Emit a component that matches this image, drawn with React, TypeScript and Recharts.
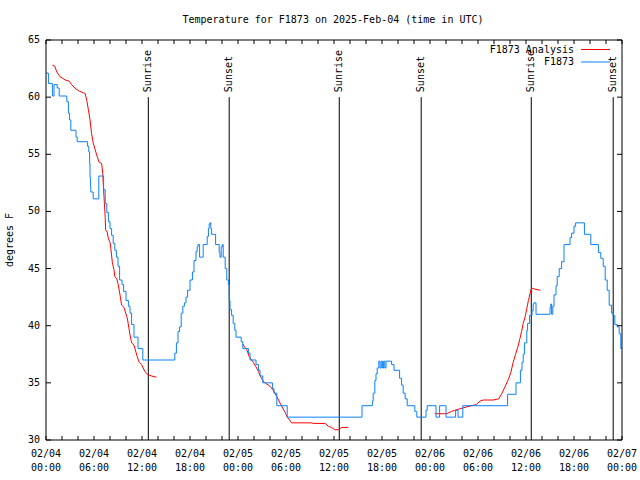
import React from 'react'
import { LineChart, Line, XAxis, YAxis, ReferenceLine, Legend } from 'recharts'

const FONT = '"DejaVu Sans Mono", "Liberation Mono", monospace'

// hours since 02/04 00:00 UTC
const obsHours = [
  0.0, 0.3, 0.8, 1.0, 1.4, 1.65, 2.6, 2.8, 2.95, 3.1, 3.75, 3.9, 5.2, 5.35, 5.45, 5.5, 5.55, 5.6, 5.9, 6.6,
  7.2, 7.4, 7.6, 7.8, 8.0, 8.2, 8.4, 8.6, 8.8, 9.0, 9.2, 9.5, 9.7, 10.0, 10.3, 10.5, 10.7, 11.0, 11.5, 12.1,
  16.1, 16.3, 16.5, 16.7, 16.9, 17.1, 17.3, 17.5, 17.7, 18.0, 18.3, 18.5, 18.75, 18.9, 19.0, 19.2, 19.65, 20.15, 20.3, 20.4,
  20.5, 20.6, 20.7, 21.2, 21.65, 21.75, 21.9, 22.05, 22.15, 22.4, 22.6, 22.8, 22.9, 23.0, 23.2, 23.4, 23.6, 23.75, 24.4, 24.6,
  25.3, 25.5, 26.25, 26.55, 26.75, 27.1, 28.3, 28.5, 28.85, 30.15, 39.5, 40.8, 40.9, 41.1, 41.25, 41.4, 41.6, 41.75, 41.9, 42.05,
  42.2, 42.35, 42.5, 43.2, 43.5, 44.2, 44.45, 44.65, 44.9, 45.15, 46.1, 46.35, 47.5, 47.65, 48.75, 49.2, 50.0, 51.2, 51.5, 52.1,
  57.7, 58.75, 59.3, 59.5, 59.65, 59.8, 60.1, 60.2, 60.45, 60.75, 60.9, 61.0, 61.25, 63.0, 63.1, 63.2, 63.35, 63.5, 63.75, 63.9,
  64.15, 64.45, 64.75, 65.5, 65.7, 66.0, 66.2, 67.3, 68.1, 69.05, 69.35, 69.65, 69.9, 70.15, 70.4, 70.7, 70.9, 71.1, 71.4, 71.65,
  71.85, 72.0,
]
const obsTemps = [
  62.1, 61.2, 60.1, 61.1, 60.8, 60.1, 59.6, 58.6, 58.0, 57.1, 56.5, 56.1, 55.7, 55.2, 54.2, 53.0, 52.2, 51.7, 51.1, 53.1,
  51.9, 50.7, 49.9, 49.1, 48.5, 47.9, 47.2, 46.6, 46.0, 45.2, 44.0, 43.6, 43.0, 42.2, 41.7, 41.1, 40.1, 39.0, 38.0, 37.0,
  37.6, 38.5, 39.5, 39.9, 41.1, 41.7, 42.0, 42.5, 43.1, 44.0, 44.7, 45.7, 46.5, 46.9, 47.1, 46.0, 47.1, 47.8, 48.5, 48.9,
  49.0, 48.5, 48.0, 47.1, 46.4, 46.0, 46.9, 47.1, 46.0, 45.0, 44.0, 43.6, 42.2, 41.4, 40.9, 40.2, 39.6, 39.0, 38.6, 38.0,
  37.6, 37.0, 36.6, 36.1, 35.6, 35.0, 34.5, 34.1, 33.0, 32.0, 33.0, 33.4, 34.1, 35.2, 35.8, 36.3, 36.9, 36.3, 36.9, 36.3,
  36.9, 36.3, 36.9, 36.6, 36.1, 35.4, 34.8, 34.1, 33.6, 33.0, 32.5, 32.0, 32.6, 33.0, 32.0, 33.0, 32.0, 32.6, 32.0, 33.0,
  34.0, 35.0, 36.1, 36.8, 37.5, 38.5, 39.6, 40.2, 40.9, 41.3, 41.9, 42.0, 41.0, 41.6, 41.9, 41.0, 41.7, 42.7, 43.5, 44.3,
  45.0, 45.6, 47.1, 47.7, 48.1, 48.7, 49.0, 48.0, 47.1, 46.4, 45.9, 45.2, 44.0, 43.1, 41.8, 41.1, 40.9, 40.1, 39.9, 39.3,
  38.0, 38.0,
]

// analysis series, null = no analysis (gap)
const anaHours = [
  0.8, 1.1, 1.35, 1.75, 2.4, 2.9, 3.2, 3.6, 4.2, 4.65, 4.9, 5.1, 5.3, 5.5, 5.7, 5.9, 6.1, 6.4, 6.65, 6.95,
  7.1, 7.15, 7.3, 7.4, 7.45, 7.65, 7.8, 8.0, 8.1, 8.3, 8.5, 8.6, 8.85, 9.0, 9.1, 9.25, 9.45, 9.75, 10.1, 10.2,
  10.5, 10.7, 11.0, 11.4, 11.65, 11.95, 12.35, 12.6, 12.8, 13.2, 13.8, 14.0,
  24.6, 24.85, 25.1, 25.4, 25.7, 25.9, 26.25, 26.55, 26.85, 27.2, 27.6, 28.0, 28.35, 28.6, 28.85, 29.35, 29.9, 30.15,
  30.5, 30.7, 33.2, 33.4, 34.9, 35.3, 35.7, 36.1, 36.55, 36.95, 37.8, 38.0,
  48.6, 50.1, 50.7, 51.1, 52.1, 52.6, 53.8, 54.25, 54.65, 55.9, 56.6, 57.0, 57.4, 57.8, 58.1, 58.4, 58.7, 59.0, 59.25,
  59.45, 59.65, 59.9, 60.1, 60.3, 60.5, 60.7, 61.1, 61.8,
]
const anaTemps = [
  62.8, 62.7, 62.2, 61.8, 61.5, 61.4, 61.1, 60.8, 60.5, 60.4, 60.3, 59.7, 58.9, 58.0, 56.8, 56.0, 55.5, 54.8, 54.3, 54.2,
  53.3, 52.5, 50.7, 49.5, 48.4, 48.2, 47.6, 47.3, 46.8, 45.5, 44.9, 44.3, 44.1, 43.7, 43.3, 42.7, 41.8, 41.6, 40.8, 40.5,
  39.2, 38.5, 38.3, 37.3, 36.8, 36.6, 36.0, 35.8, 35.7, 35.6, 35.5, null,
  38.4, 38.1, 37.9, 37.3, 37.0, 36.8, 36.4, 36.0, 35.5, 35.1, 34.9, 34.7, 34.4, 34.1, 33.8, 33.1, 32.4, 32.0,
  31.7, 31.5, 31.5, 31.45, 31.45, 31.2, 31.1, 30.9, 30.9, 31.1, 31.1, null,
  32.3, 32.3, 32.5, 32.6, 32.8, 32.9, 33.1, 33.4, 33.5, 33.5, 33.6, 34.1, 34.7, 35.3, 35.9, 36.8, 37.5, 38.2, 38.9,
  39.5, 40.2, 40.8, 41.5, 42.2, 42.8, 43.3, 43.2, 43.1,
]

const sunriseHours = [12.79, 36.66, 60.66]
const sunsetHours = [22.9, 46.9, 70.9]

const xTicks = [0, 2, 4, 6, 8, 10, 12, 14, 16, 18, 20, 22, 24, 26, 28, 30, 32, 34, 36, 38, 40, 42, 44, 46, 48, 50, 52, 54, 56, 58, 60, 62, 64, 66, 68, 70, 72]
const dateLabels = ['02/04', '02/04', '02/04', '02/04', '02/05', '02/05', '02/05', '02/05', '02/06', '02/06', '02/06', '02/06', '02/07']
const timeLabels = ['00:00', '06:00', '12:00', '18:00', '00:00', '06:00', '12:00', '18:00', '00:00', '06:00', '12:00', '18:00', '00:00']
const yTicks = [30, 35, 40, 45, 50, 55, 60, 65]
const legendOrder = ['F1873 Analysis', 'F1873']

const obsData = obsHours.map((h, i) => ({ h, t: obsTemps[i] }))
const anaData = anaHours.map((h, i) => ({ h, t: anaTemps[i] }))

const txt = { fontFamily: FONT, fontSize: 10, fill: '#000' }

function BottomTick(props: any) {
  const { x, y, payload } = props
  const v = payload.value
  const idx = v % 6 === 0 ? v / 6 : -1
  return (
    <g>
      <line x1={x} x2={x} y1={y} y2={y - 4} stroke="#000" />
      {idx >= 0 && (
        <>
          <text x={x} y={y + 14} textAnchor="middle" dominantBaseline="middle" {...txt}>{dateLabels[idx]}</text>
          <text x={x} y={y + 28} textAnchor="middle" dominantBaseline="middle" {...txt}>{timeLabels[idx]}</text>
        </>
      )}
    </g>
  )
}

function TopTick(props: any) {
  const { x, y } = props
  return <line x1={x} x2={x} y1={y} y2={y + 4} stroke="#000" />
}

function LeftTick(props: any) {
  const { x, y, payload } = props
  return (
    <g>
      <line x1={x} x2={x + 5} y1={y} y2={y} stroke="#000" />
      <text x={x - 6} y={y} textAnchor="end" dominantBaseline="middle" {...txt}>{payload.value}</text>
    </g>
  )
}

function RightTick(props: any) {
  const { x, y } = props
  return <line x1={x} x2={x - 5} y1={y} y2={y} stroke="#000" />
}

const sunLabel = (name: string) => (props: any) => {
  const { x, y } = props.viewBox
  const ty = y - 5
  return (
    <text x={x} y={ty} transform={`rotate(-90 ${x} ${ty})`} textAnchor="start" dominantBaseline="middle" {...txt}>
      {name}
    </text>
  )
}

const titleLabel = (props: any) => {
  const { x, width } = props.viewBox
  return (
    <text x={x + width / 2 - 1} y={20} textAnchor="middle" dominantBaseline="middle" {...txt}>
      Temperature for F1873 on 2025-Feb-04 (time in UTC)
    </text>
  )
}

const yLabel = (props: any) => {
  const { x, y, height } = props.viewBox
  const cx = x + 10
  const cy = y + height / 2
  return (
    <text x={cx} y={cy} transform={`rotate(-90 ${cx} ${cy})`} textAnchor="middle" dominantBaseline="middle" {...txt}>
      degrees F
    </text>
  )
}

const renderLegend = (props: any) => {
  const items = [...(props.payload ?? [])].sort(
    (a: any, b: any) => legendOrder.indexOf(a.value) - legendOrder.indexOf(b.value),
  )
  return (
    <svg width={160} height={30}>
      {items.map((it: any, i: number) => (
        <g key={it.value}>
          <text x={104} y={10 + i * 12} textAnchor="end" dominantBaseline="middle" {...txt}>{it.value}</text>
          <line x1={111} x2={140} y1={9.5 + i * 12.5} y2={9.5 + i * 12.5} stroke={it.color} />
        </g>
      ))}
    </svg>
  )
}

export default function App() {
  return (
    <div style={{ position: 'absolute', left: 0, top: 0, width: 640, height: 480, background: '#fff' }}>
      <LineChart width={640} height={480} margin={{ top: 0, right: 0, bottom: 0, left: 0 }}>
        <XAxis
          dataKey="h"
          type="number"
          domain={[0, 72]}
          ticks={xTicks}
          interval={0}
          allowDataOverflow
          height={40}
          axisLine={{ stroke: '#000' }}
          tickLine={false}
          tickSize={0}
          tickMargin={0}
          tick={<BottomTick />}
        />
        <XAxis
          xAxisId="top"
          orientation="top"
          dataKey="h"
          type="number"
          domain={[0, 72]}
          ticks={xTicks}
          interval={0}
          allowDataOverflow
          height={40}
          axisLine={{ stroke: '#000' }}
          tickLine={false}
          tickSize={0}
          tickMargin={0}
          tick={<TopTick />}
          label={{ content: titleLabel }}
        />
        <YAxis
          type="number"
          domain={[30, 65]}
          ticks={yTicks}
          interval={0}
          allowDataOverflow
          width={46}
          axisLine={{ stroke: '#000' }}
          tickLine={false}
          tickSize={0}
          tickMargin={0}
          tick={<LeftTick />}
          label={{ content: yLabel }}
        />
        <YAxis
          yAxisId="right"
          orientation="right"
          type="number"
          domain={[30, 65]}
          ticks={yTicks}
          interval={0}
          allowDataOverflow
          width={18}
          axisLine={{ stroke: '#000' }}
          tickLine={false}
          tickSize={0}
          tickMargin={0}
          tick={<RightTick />}
        />
        {sunriseHours.map((h) => (
          <ReferenceLine
            key={'sr' + h}
            segment={[{ x: h, y: 30 }, { x: h, y: 60 }]}
            stroke="#000"
            label={{ content: sunLabel('Sunrise') }}
          />
        ))}
        {sunsetHours.map((h) => (
          <ReferenceLine
            key={'ss' + h}
            segment={[{ x: h, y: 30 }, { x: h, y: 60 }]}
            stroke="#000"
            label={{ content: sunLabel('Sunset') }}
          />
        ))}
        <Line
          data={anaData}
          dataKey="t"
          name="F1873 Analysis"
          type="linear"
          stroke="#ff0000"
          strokeWidth={1}
          dot={false}
          connectNulls={false}
          isAnimationActive={false}
        />
        <Line
          data={obsData}
          dataKey="t"
          name="F1873"
          type="stepAfter"
          stroke="#0a80ff"
          strokeWidth={1}
          dot={false}
          isAnimationActive={false}
        />
        <Legend
          layout="vertical"
          align="center"
          verticalAlign="middle"
          content={renderLegend}
          wrapperStyle={{ left: 470, top: 40, width: 160, height: 30 }}
        />
      </LineChart>
    </div>
  )
}
